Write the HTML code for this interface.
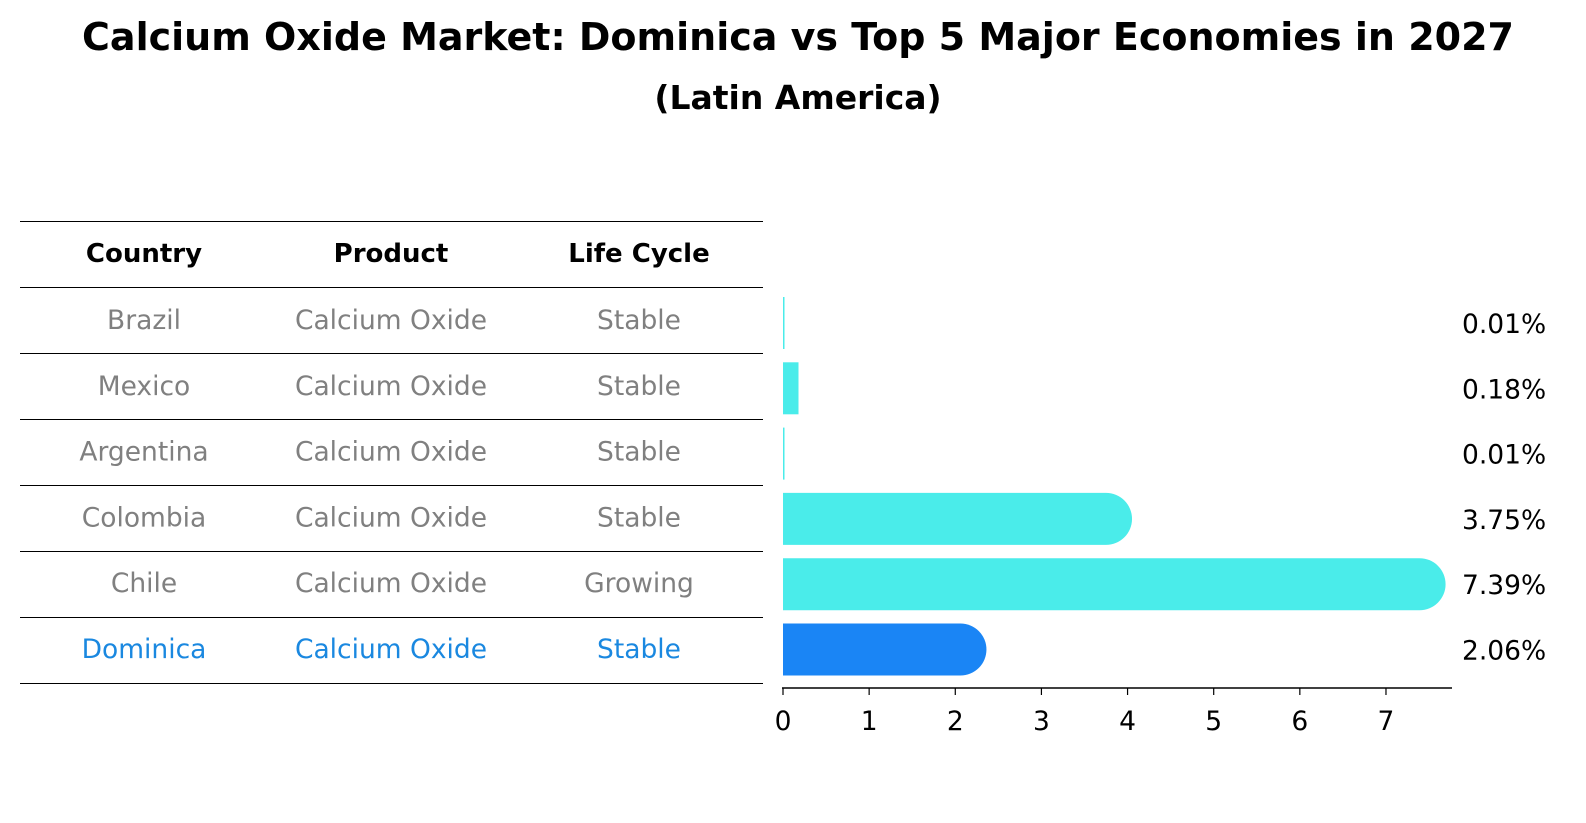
<!DOCTYPE html>
<html><head><meta charset="utf-8"><style>
html,body{margin:0;background:#fff;overflow:hidden;width:1586px;height:823px}
#c{position:relative;width:1586px;height:823px;overflow:hidden}
</style></head><body>
<div id="c">
<svg id="s" width="1586" height="823" viewBox="0 0 1586 823" style="position:absolute;left:0;top:0">
<text x="798" y="50" text-anchor="middle" font-size="38" font-weight="bold" font-family="'DejaVu Sans',sans-serif">Calcium Oxide Market: Dominica vs Top 5 Major Economies in 2027</text>
<text x="798" y="109" text-anchor="middle" font-size="33" font-weight="bold" font-family="'DejaVu Sans',sans-serif">(Latin America)</text>
</svg>
</div>
<script>
const countries=["Brazil","Mexico","Argentina","Colombia","Chile","Dominica"];
const products=["Calcium Oxide","Calcium Oxide","Calcium Oxide","Calcium Oxide","Calcium Oxide","Calcium Oxide"];
const lifeCycles=["Stable","Stable","Stable","Stable","Growing","Stable"];
const values=[0.01,0.18,0.01,3.75,7.39,2.06];
const valueLabels=["0.01%","0.18%","0.01%","3.75%","7.39%","2.06%"];
const xTicks=[0,1,2,3,4,5,6,7];
const NS="http://www.w3.org/2000/svg";
const s=document.getElementById('s');
const F="'DejaVu Sans',sans-serif";
function x(v){return 783+v*86.14;}
function rowY(i){return 323+i*65.3;}
function mk(t,a,txt){const e=document.createElementNS(NS,t);for(const k in a)e.setAttribute(k,a[k]);if(txt!==undefined)e.textContent=txt;s.appendChild(e);return e;}
const lineYs=[221.5,287.5];for(let i=1;i<=6;i++)lineYs.push(Math.round(287+i*66)+0.5);
lineYs.forEach(y=>{const l=mk('line',{x1:20,x2:763,y1:y,y2:y,stroke:'#000','stroke-width':1});

});
const colX=[144,391,639];
["Country","Product","Life Cycle"].forEach((h,j)=>{const t=mk('text',{x:colX[j],y:262,'text-anchor':'middle','font-size':26,'font-weight':'bold','font-family':F},h);

});
countries.forEach((c,i)=>{
 const y=329+i*65.8;const col=i===5?'#1a88e0':'#808080';
 [c,products[i],lifeCycles[i]].forEach((v,j)=>{const t=mk('text',{x:colX[j],y:y,'text-anchor':'middle','font-size':26.5,fill:col,'font-family':F},v);
 
 });
 const cy=rowY(i),h=52,v=values[i],x0=x(0),x1=x(v);
 const col2=i===5?'#1a85f5':'#4aecea';
 if(v>1){const r=h/2;
  const p=mk('path',{d:`M${x0},${cy-r}H${x1}a${r},${r} 0 0 1 0,${h}H${x0}Z`,fill:col2});
  
  
 } else {const p=mk('rect',{x:x0,y:cy-h/2,width:Math.max(1.5,x1-x0),height:h,fill:col2});
  
  }
 const t=mk('text',{x:1462,y:cy+10,'font-size':26.5,'font-family':F},valueLabels[i]);
 
 
});
const ax=mk('line',{x1:782,x2:1452,y1:688,y2:688,stroke:'#000','stroke-width':1.5});


xTicks.forEach(v=>{const l=mk('line',{x1:x(v),x2:x(v),y1:688,y2:695,stroke:'#000','stroke-width':1.2});


const t=mk('text',{x:x(v),y:730,'text-anchor':'middle','font-size':26.5,'font-family':F},String(v));

});
</script>
</body></html>
